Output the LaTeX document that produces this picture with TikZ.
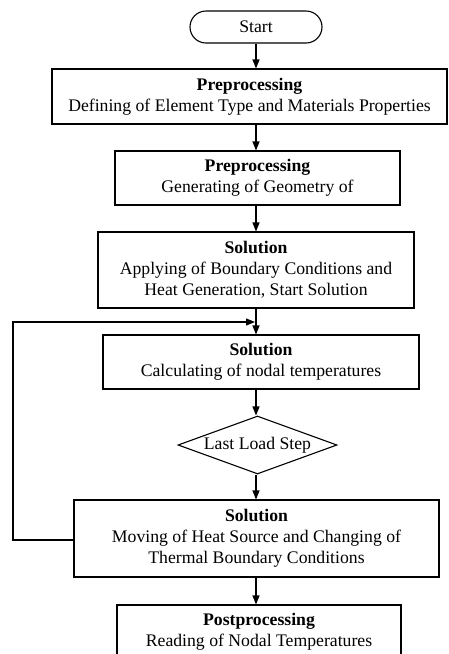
\documentclass[tikz,border=0pt]{standalone}
\usepackage{fontspec}
\setmainfont{Liberation Serif}
\usetikzlibrary{shapes.geometric,arrows.meta}
\begin{document}
\begin{tikzpicture}[x=1pt,y=-1pt,
  box/.style={draw, line width=1.1pt, rectangle, inner sep=0pt, align=center,
    font=\fontsize{17.7}{21}\selectfont},
  term/.style={draw, line width=1.1pt, rounded corners=16pt, inner sep=0pt,
    minimum width=132pt, minimum height=32pt, font=\fontsize{17.7}{21}\selectfont},
  dec/.style={draw, line width=1.1pt, diamond, aspect=2.74, inner sep=0pt,
    minimum width=159pt, minimum height=58pt, font=\fontsize{17.7}{21}\selectfont},
  arr/.style={line width=1.1pt, -{Triangle[length=9pt,width=7pt]}},
  ln/.style={line width=1.1pt}]
\useasboundingbox (0,0) rectangle (448,654);
\coordinate (s) at (256,0);
\node[term] (start) at (256,27) {Start};
\node[box, minimum width=395pt, minimum height=55pt] (b1) at (249.5,96.5)
  {\textbf{Preprocessing}\\Defining of Element Type and Materials Properties};
\node[box, minimum width=285pt, minimum height=54pt] (b2) at (257.5,178)
  {\textbf{Preprocessing}\\Generating of Geometry of};
\node[box, minimum width=316pt, minimum height=76pt] (b3) at (256,270)
  {\textbf{Solution}\\Applying of Boundary Conditions and\\Heat Generation, Start Solution};
\node[box, minimum width=316pt, minimum height=54pt] (b4) at (261,362)
  {\textbf{Solution}\\Calculating of nodal temperatures};
\node[dec] (d) at (257.5,445) {Last Load Step};
\node[box, minimum width=365pt, minimum height=77pt] (b5) at (256.5,538.5)
  {\textbf{Solution}\\Moving of Heat Source and Changing of\\Thermal Boundary Conditions};
\node[box, minimum width=284pt, minimum height=54pt] (b6) at (259,632)
  {\textbf{Postprocessing}\\Reading of Nodal Temperatures};
\coordinate (lc1) at (13,540);
\coordinate (lc2) at (13,322);
\coordinate (j) at (255,322);
\draw[arr] (start.south -| s) -- (b1.north -| s);
\draw[arr] (b1.south -| s) -- (b2.north -| s);
\draw[arr] (b2.south -| s) -- (b3.north -| s);
\draw[arr] (b3.south -| s) -- (b4.north -| s);
\draw[arr] (b4.south -| s) -- (d.north -| s);
\draw[arr] (d.south -| s) -- (b5.north -| s);
\draw[arr] (b5.south -| s) -- (b6.north -| s);
\draw[arr] (b5.west |- lc1) -- (lc1) -- (lc2) -- (j);
\end{tikzpicture}
\end{document}
